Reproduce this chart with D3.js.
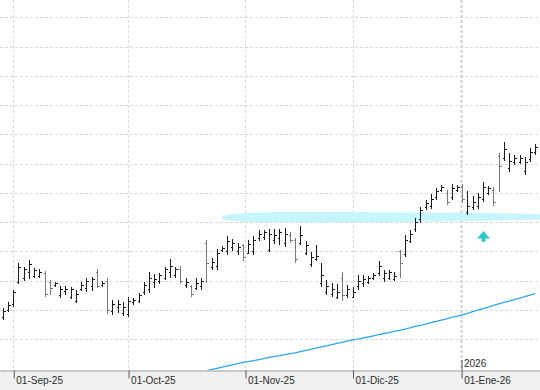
<!DOCTYPE html>
<html>
<head>
<meta charset="utf-8">
<script src="https://cdn.jsdelivr.net/npm/d3@7"></script>
<style>
  body { margin: 0; background: #fff; }
  svg { display: block; font-family: 'Liberation Sans', Arial, sans-serif; }
</style>
</head>
<body>
<svg class="chart"></svg>
<script>
// OHLC bars, one per trading session (index 0 = 28-Aug-25)
var opens = [11.75, 12.00, 12.20, 12.95, 13.10, 13.30, 13.15, 13.15, 13.25, 12.95,
    12.85, 12.50, 12.65, 12.45, 12.30, 12.70, 12.75, 12.80, 13.30, 12.85,
    13.00, 11.95, 12.10, 11.90, 11.85, 12.25, 12.30, 12.60, 12.70, 12.95,
    13.00, 13.10, 13.30, 13.20, 13.40, 12.85, 12.80, 12.75, 12.80, 14.30,
    13.45, 13.50, 14.05, 14.00, 14.15, 14.00, 14.20, 13.95, 14.00, 14.45,
    14.50, 14.05, 14.40, 14.45, 14.30, 14.55, 14.40, 14.30, 13.95, 13.55,
    13.75, 12.90, 12.60, 12.55, 12.45, 13.10, 12.50, 12.45, 12.80, 12.90,
    12.95, 13.10, 13.25, 13.10, 13.10, 13.05, 14.00, 13.90, 14.35, 14.75,
    15.10, 15.50, 15.55, 15.85, 16.10, 16.00, 15.85, 16.10, 16.20, 15.35,
    15.50, 15.55, 15.80, 16.00, 16.10, 17.25, 17.20, 16.85, 17.05, 17.05,
    16.75, 17.15, 17.40];
var highs = [12.06, 12.26, 12.67, 13.60, 13.46, 13.70, 13.43, 13.40, 13.33, 13.02,
    12.95, 12.81, 12.81, 12.78, 12.67, 12.95, 13.09, 13.12, 13.40, 12.98,
    13.09, 12.33, 12.33, 12.26, 12.44, 12.40, 12.57, 12.95, 13.29, 13.22,
    13.26, 13.46, 13.74, 13.46, 13.50, 13.09, 12.85, 13.09, 13.09, 14.38,
    13.77, 14.08, 14.18, 14.52, 14.42, 14.28, 14.25, 14.38, 14.52, 14.73,
    14.73, 14.76, 14.76, 14.76, 14.79, 14.66, 14.45, 14.86, 14.35, 13.97,
    14.21, 13.60, 13.02, 12.91, 12.88, 13.29, 12.85, 12.78, 13.19, 13.19,
    13.15, 13.26, 13.67, 13.36, 13.36, 13.29, 14.04, 14.55, 14.73, 15.14,
    15.51, 15.75, 15.96, 16.16, 16.26, 16.09, 16.30, 16.26, 16.30, 16.06,
    15.89, 15.99, 16.37, 16.23, 16.20, 17.36, 17.74, 17.36, 17.29, 17.29,
    17.22, 17.53, 17.67];
var lows = [11.65, 11.92, 12.10, 12.88, 12.98, 13.05, 13.09, 13.09, 12.44, 12.51,
    12.78, 12.40, 12.51, 12.37, 12.23, 12.64, 12.61, 12.64, 12.74, 12.78,
    11.85, 11.82, 11.89, 11.79, 11.76, 12.16, 12.23, 12.51, 12.57, 12.74,
    12.88, 13.02, 13.09, 13.09, 12.88, 12.74, 12.44, 12.67, 12.67, 12.91,
    13.36, 13.36, 13.97, 13.87, 14.01, 13.87, 13.67, 13.91, 13.87, 14.35,
    14.38, 13.97, 14.25, 14.21, 14.15, 14.28, 13.60, 14.21, 13.87, 13.46,
    13.67, 12.78, 12.51, 12.44, 12.37, 12.30, 12.40, 12.40, 12.67, 12.78,
    12.88, 13.02, 13.15, 12.95, 13.02, 12.98, 13.09, 13.80, 14.28, 14.66,
    14.96, 15.41, 15.44, 15.75, 16.03, 15.58, 15.75, 16.03, 15.65, 15.24,
    15.41, 15.44, 15.68, 15.92, 15.55, 16.03, 17.09, 16.71, 16.95, 16.98,
    16.61, 17.05, 17.29];
var closes = [11.95, 12.15, 12.60, 13.45, 13.40, 13.55, 13.35, 13.30, 12.55, 12.75,
    12.90, 12.70, 12.70, 12.70, 12.55, 12.85, 13.00, 13.05, 12.80, 12.92,
    12.00, 12.20, 12.20, 12.10, 12.30, 12.35, 12.50, 12.85, 13.10, 13.05,
    13.20, 13.40, 13.50, 13.40, 13.00, 12.95, 12.55, 12.90, 13.00, 13.60,
    13.65, 13.95, 14.10, 14.35, 14.30, 14.15, 13.80, 14.25, 14.40, 14.60,
    14.65, 14.60, 14.55, 14.65, 14.60, 14.40, 13.75, 14.55, 14.20, 13.80,
    13.85, 13.20, 12.80, 12.70, 12.60, 12.50, 12.70, 12.60, 13.00, 13.05,
    13.10, 13.20, 13.50, 13.25, 13.30, 13.15, 13.60, 14.40, 14.60, 15.00,
    15.40, 15.65, 15.80, 16.05, 16.20, 15.70, 16.15, 16.20, 15.80, 15.55,
    15.70, 15.85, 16.20, 16.15, 15.70, 16.90, 17.50, 17.10, 17.20, 17.20,
    17.05, 17.40, 17.55];

// moving average, starts at bar 38
var maStart = 38;
var maValues = [9.88, 9.92, 9.96, 10.00, 10.04, 10.08, 10.12, 10.16, 10.20, 10.23,
    10.26, 10.30, 10.33, 10.37, 10.40, 10.43, 10.47, 10.50, 10.53, 10.57,
    10.61, 10.65, 10.69, 10.73, 10.77, 10.81, 10.85, 10.89, 10.93, 10.97,
    11.00, 11.04, 11.07, 11.11, 11.15, 11.19, 11.22, 11.26, 11.30, 11.34,
    11.38, 11.43, 11.47, 11.51, 11.56, 11.60, 11.65, 11.69, 11.74, 11.78,
    11.83, 11.88, 11.94, 11.99, 12.04, 12.09, 12.15, 12.20, 12.25, 12.30,
    12.35, 12.40, 12.45, 12.50, 12.55];

// support zone (bar index, upper, lower)
var zoneIdx = [42, 43, 46, 51, 72, 88, 104];
var zoneTop = [15.20, 15.24, 15.31, 15.35, 15.34, 15.32, 15.27];
var zoneBottom = [15.09, 15.05, 15.01, 14.99, 14.98, 15.03, 15.09];

// arrow marker
var arrowIdx = 92;
var arrowTip = 14.69,
    arrowBase = 14.33;

// axis
var monthIdx = [2, 24, 46.4, 67, 87.8];
var monthLabels = ['01-Sep-25', '01-Oct-25', '01-Nov-25', '01-Dic-25', '01-Ene-26'];
var yearLabel = '2026';
var gridValues = [11, 12, 13, 14, 15, 16, 17, 18, 19, 20, 21, 22];

var svgWidth = 540,
    svgHeight = 390,
    plotHeight = 370;

var svg = d3.select('svg')
    .attr('width', svgWidth)
    .attr('height', svgHeight);

var x = d3.scaleLinear()
    .domain([-0.54, 102.91])
    .range([0, svgWidth]);

var y = d3.scaleLinear()
    .domain([9.942, 22.59])
    .range([plotHeight, 0]);

svg.append('clipPath')
    .attr('id', 'plot')
    .append('rect')
    .attr('width', svgWidth)
    .attr('height', plotHeight);

// axis strip
svg.append('rect')
    .attr('y', plotHeight)
    .attr('width', svgWidth)
    .attr('height', svgHeight - plotHeight)
    .attr('fill', '#f0f0f0');

// horizontal grid
svg.append('g')
    .call(d3.axisLeft(y).tickValues(gridValues).tickSize(-svgWidth).tickFormat(''))
    .call(function (g) { g.select('.domain').remove(); })
    .selectAll('line')
    .attr('stroke', '#d9d9d9')
    .attr('stroke-dasharray', '3,2')
    .attr('shape-rendering', 'crispEdges');

// vertical grid
svg.append('g')
    .selectAll('line')
    .data(monthIdx)
    .enter()
    .append('line')
    .attr('x1', function (d) { return Math.round(x(d)) + 0.5; })
    .attr('x2', function (d) { return Math.round(x(d)) + 0.5; })
    .attr('y1', 0)
    .attr('y2', plotHeight)
    .attr('stroke', function (d, i) { return i === 4 ? '#d0d0d0' : '#d9d9d9'; })
    .attr('stroke-width', function (d, i) { return i === 4 ? 2 : 1; })
    .attr('stroke-dasharray', '3,2');

var plot = svg.append('g')
    .attr('clip-path', 'url(#plot)');

// support zone
var zone = d3.area()
    .x(function (d) { return x(d); })
    .y0(function (d, i) { return y(zoneBottom[i]); })
    .y1(function (d, i) { return y(zoneTop[i]); })
    .curve(d3.curveBasis);

plot.append('path')
    .datum(zoneIdx)
    .attr('d', zone)
    .attr('fill', '#c6f6fb');

// moving average
var ma = d3.line()
    .x(function (d, i) { return x(maStart + i); })
    .y(function (d) { return y(d); });

plot.append('path')
    .datum(maValues)
    .attr('d', ma)
    .attr('fill', 'none')
    .attr('stroke', '#2ea8e8')
    .attr('stroke-width', 1.3);

// OHLC bars
var bars = plot.selectAll('.bar')
    .data(opens)
    .enter()
    .append('g')
    .attr('class', 'bar')
    .attr('stroke', function (d, i) { return closes[i] < d ? '#7a7a7a' : '#1a1a1a'; })
    .attr('shape-rendering', 'crispEdges')
    .attr('transform', function (d, i) {
        return 'translate(' + (Math.round(x(i)) + 0.5) + ',0)';
    });

bars.append('line')
    .attr('y1', function (d, i) { return y(highs[i]); })
    .attr('y2', function (d, i) { return y(lows[i]); });

bars.append('line')
    .attr('x1', -2)
    .attr('x2', 0)
    .attr('y1', function (d) { return Math.round(y(d)) + 0.5; })
    .attr('y2', function (d) { return Math.round(y(d)) + 0.5; });

bars.append('line')
    .attr('x1', 0)
    .attr('x2', 2)
    .attr('y1', function (d, i) { return Math.round(y(closes[i])) + 0.5; })
    .attr('y2', function (d, i) { return Math.round(y(closes[i])) + 0.5; });

// arrow
var ax = x(arrowIdx) + 0.5,
    aTop = y(arrowTip),
    aBot = y(arrowBase),
    headH = 7.5;
plot.append('path')
    .attr('d', 'M' + ax + ',' + aTop +
        'L' + (ax + 6.5) + ',' + (aTop + headH) +
        'L' + (ax + 2) + ',' + (aTop + headH) +
        'L' + (ax + 2) + ',' + aBot +
        'L' + (ax - 2) + ',' + aBot +
        'L' + (ax - 2) + ',' + (aTop + headH) +
        'L' + (ax - 6.5) + ',' + (aTop + headH) + 'Z')
    .attr('fill', '#2ec6c6');

// x axis
var xAxis = d3.axisBottom(x)
    .tickValues(monthIdx)
    .tickSize(8)
    .tickSizeOuter(0)
    .tickFormat(function (d, i) { return monthLabels[i]; });

var gx = svg.append('g')
    .attr('transform', 'translate(0,' + (plotHeight + 0.5) + ')')
    .call(xAxis);

gx.select('.domain')
    .attr('stroke', '#a0a0a0');
gx.selectAll('.tick line')
    .attr('stroke', '#555')
    .attr('transform', function () { return 'translate(0.5,0)'; });
gx.selectAll('.tick text')
    .attr('text-anchor', 'start')
    .attr('x', 2.5)
    .attr('y', 13.5)
    .attr('dy', 0)
    .attr('fill', '#2b2b2b')
    .style('font-size', '10px')
    .style('font-family', "'Liberation Sans', Arial, sans-serif");

// year marker
var yx = Math.round(x(monthIdx[4])) + 1;
svg.append('line')
    .attr('x1', yx)
    .attr('x2', yx)
    .attr('y1', 360)
    .attr('y2', plotHeight)
    .attr('stroke', '#555');
svg.append('text')
    .attr('x', yx + 2)
    .attr('y', 367)
    .attr('fill', '#2b2b2b')
    .style('font-size', '10px')
    .text(yearLabel);
</script>
</body>
</html>
